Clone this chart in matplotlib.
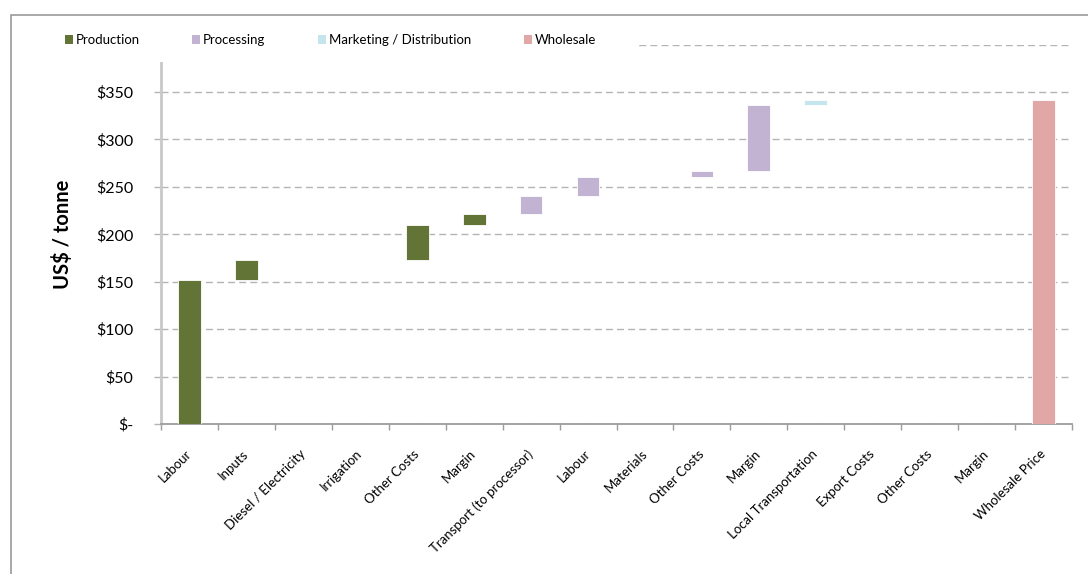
import numpy as np
import matplotlib.pyplot as plt
from matplotlib.patches import Patch, Rectangle
from matplotlib.ticker import FuncFormatter, MultipleLocator

plt.rcParams['font.family'] = ['Lato', 'DejaVu Sans']

# value chain steps, US$ per tonne
categories = ['Labour', 'Inputs', 'Diesel / Electricity', 'Irrigation', 'Other Costs', 'Margin',
              'Transport (to processor)', 'Labour', 'Materials', 'Other Costs', 'Margin',
              'Local Transportation', 'Export Costs', 'Other Costs', 'Margin',
              'Wholesale Price']
stages = ['Production'] * 6 + ['Processing'] * 5 + ['Marketing / Distribution'] * 4 + ['Wholesale']
values = [152, 21, 0, 0, 37, 11,
          19, 20, 0, 7, 69,
          6, 0, 0, 0,
          342]

stage_colors = {
    'Production': '#637536',
    'Processing': '#c2b3d3',
    'Marketing / Distribution': '#c5e5ec',
    'Wholesale': '#e0a7a6',
}

# floating bars start where the previous step ended; the total sits on zero
steps = np.array(values[:-1], dtype=float)
bottoms = np.concatenate([[0], np.cumsum(steps)[:-1], [0]])


def money(v, pos):
    if v == 0:
        return '$-'
    if v >= 400:
        return ''
    return f'${v:.0f}'


fig = plt.figure(figsize=(10.88, 5.74), dpi=100)
ax = fig.add_axes([161 / 1088, 150 / 574, 911 / 1088, (424 - 44.6) / 574])

x = np.arange(len(categories))
ax.bar(x, values, bottom=bottoms, width=0.4,
       color=[stage_colors[s] for s in stages], edgecolor='white', linewidth=0.6, zorder=3)

ax.set_xlim(-0.5, len(categories) - 0.5)
ax.set_ylim(0, 400)
ax.yaxis.set_major_locator(MultipleLocator(50))
ax.yaxis.set_major_formatter(FuncFormatter(money))
ax.grid(axis='y', color='#b4b4b4', linestyle=(0, (5, 3)), linewidth=1.0, zorder=0)
ax.set_axisbelow(True)

for side in ['top', 'right']:
    ax.spines[side].set_visible(False)
ax.spines['left'].set_color('#c8c8c8')
ax.spines['left'].set_linewidth(2)
ax.spines['bottom'].set_color('#9c9c9c')
ax.spines['bottom'].set_linewidth(1.3)

ax.tick_params(axis='y', length=5, width=1, color='#b4b4b4', pad=15, labelsize=11.5)
ax.set_xticks(x)
ax.set_xticks(np.arange(len(categories) + 1) - 0.5, minor=True)
ax.tick_params(axis='x', which='major', length=0, pad=20, labelsize=9.5)
ax.tick_params(axis='x', which='minor', length=4, width=1, color='#9c9c9c')
ax.set_xticklabels(categories, rotation=45, ha='right', va='center', rotation_mode='anchor')

ax.set_ylabel('US$ / tonne', fontsize=14.5, fontweight='bold')
ax.yaxis.set_label_coords(-0.097, 0.5)

# outer chart frame
fig.add_artist(Rectangle((11 / 1088, -0.1), 1.2, 0.1 + (574 - 15) / 574, transform=fig.transFigure,
                         fill=False, edgecolor='#9a9a9a', linewidth=1.2))
# legend strip hides the top gridline on the left
fig.add_artist(Rectangle((0.015, 0.892), 0.5836 - 0.015, 0.965 - 0.892, transform=fig.transFigure,
                         facecolor='white', edgecolor='none', zorder=4))

handles = [Patch(facecolor=c, edgecolor='none', label=s) for s, c in stage_colors.items()]
fig.legend(handles=handles, loc='center left', bbox_to_anchor=(65 / 1088, 1 - 40 / 574),
           ncol=4, frameon=False, fontsize=9.5, handlelength=0.6, handleheight=0.6,
           handletextpad=0.2, columnspacing=4.0, borderpad=0, borderaxespad=0)

fig.savefig('out.png', dpi=100)
